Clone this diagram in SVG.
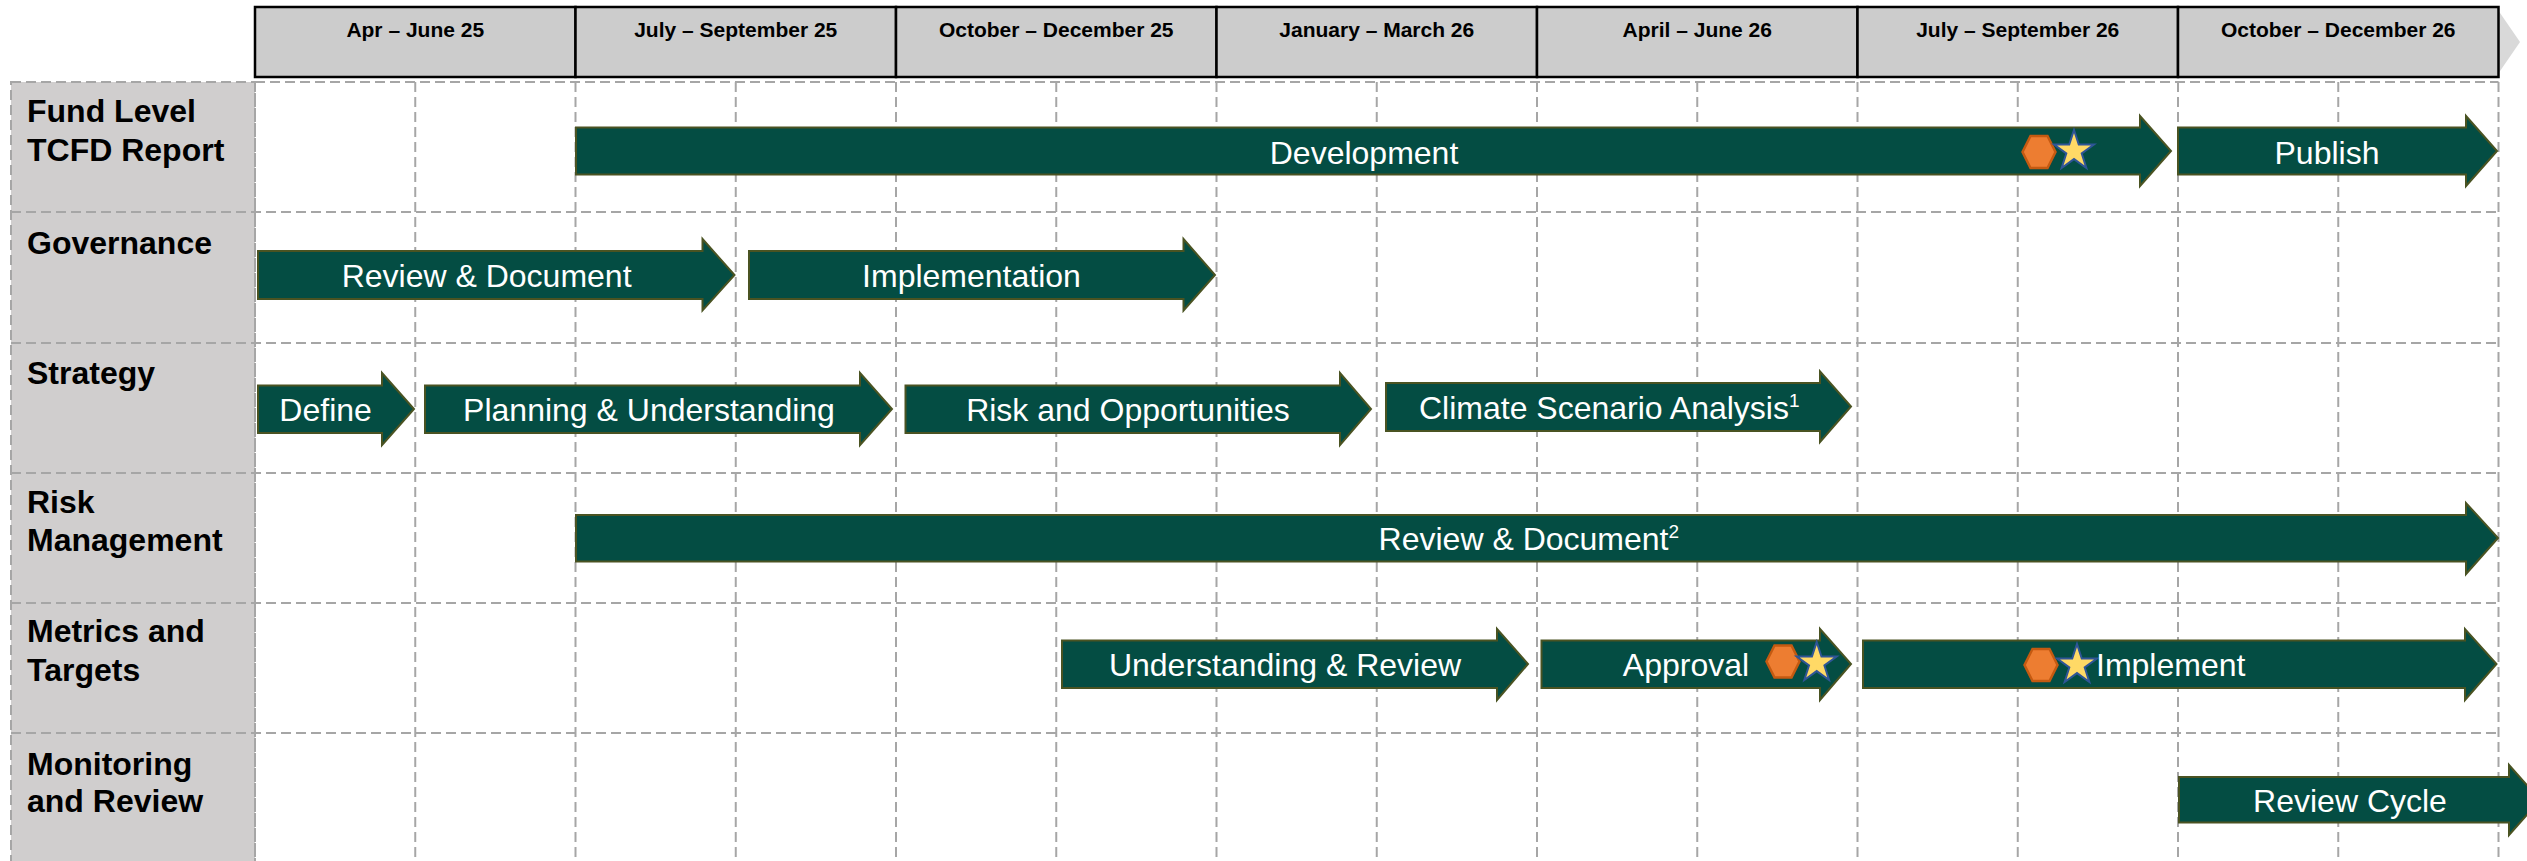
<svg xmlns="http://www.w3.org/2000/svg" xmlns:xlink="http://www.w3.org/1999/xlink" width="2527" height="861" viewBox="0 0 2527 861">
<style>
.hdr{fill:#cccccc;stroke:#000;stroke-width:2.5}
.hdrt{font-family:"Liberation Sans",Arial,sans-serif;font-weight:bold;font-size:21px;fill:#000;text-anchor:middle}
.grid{stroke:#a6a6a6;stroke-width:2;stroke-dasharray:10 5;fill:none}
.lab{font-family:"Liberation Sans",Arial,sans-serif;font-weight:bold;font-size:32px;fill:#000}
.bar{fill:#044d43;stroke:#4a5322;stroke-width:2}
.bt{font-family:"Liberation Sans",Arial,sans-serif;font-size:32px;fill:#fff;text-anchor:middle}
.bts{font-family:"Liberation Sans",Arial,sans-serif;font-size:32px;fill:#fff}
.sup{font-size:19px}
.hex{fill:#ed7d31;stroke:#c55a11;stroke-width:2.5}
.star{fill:#ffd966;stroke:#2f5597;stroke-width:2}
</style>
<defs>
<polygon id="hexg" class="hex" points="-16.5,0 -8.5,-16 8.5,-16 16.5,0 8.5,16 -8.5,16"/>
<polygon id="starg" class="star" points="0,-21 4.76,-6.55 19.97,-6.49 7.7,2.5 12.34,16.99 0,8.1 -12.34,16.99 -7.7,2.5 -19.97,-6.49 -4.76,-6.55"/>
</defs>
<rect width="2527" height="861" fill="#fff"/>

<g id="header">
<polygon points="2498,10 2520,42 2498,74" fill="#d9d9d9"/>
<rect class="hdr" x="255" y="7" width="320.5" height="70"/>
<rect class="hdr" x="575.5" y="7" width="320.5" height="70"/>
<rect class="hdr" x="896" y="7" width="320.5" height="70"/>
<rect class="hdr" x="1216.5" y="7" width="320.5" height="70"/>
<rect class="hdr" x="1537" y="7" width="320.5" height="70"/>
<rect class="hdr" x="1857.5" y="7" width="320.5" height="70"/>
<rect class="hdr" x="2178" y="7" width="320.5" height="70"/>
<text class="hdrt" x="415.25" y="37">Apr – June 25</text>
<text class="hdrt" x="735.75" y="37">July – September 25</text>
<text class="hdrt" x="1056.25" y="37">October – December 25</text>
<text class="hdrt" x="1376.75" y="37">January – March 26</text>
<text class="hdrt" x="1697.25" y="37">April – June 26</text>
<text class="hdrt" x="2017.75" y="37">July – September 26</text>
<text class="hdrt" x="2338.25" y="37">October – December 26</text>
</g>

<g id="labels">
<rect x="11" y="82" width="244" height="785" fill="#d0cece" stroke="#a6a6a6" stroke-width="2" stroke-dasharray="10 5"/>
<text class="lab" x="27" y="122">Fund Level</text>
<text class="lab" x="27" y="161">TCFD Report</text>
<text class="lab" x="27" y="254">Governance</text>
<text class="lab" x="27" y="384">Strategy</text>
<text class="lab" x="27" y="513">Risk</text>
<text class="lab" x="27" y="551">Management</text>
<text class="lab" x="27" y="642">Metrics and</text>
<text class="lab" x="27" y="681">Targets</text>
<text class="lab" x="27" y="775">Monitoring</text>
<text class="lab" x="27" y="812">and Review</text>
</g>

<g id="grid" class="grid">
<path d="M255 82H2498.5M11 212H2498.5M11 343H2498.5M11 473H2498.5M11 603H2498.5M11 733H2498.5"/>
<path d="M255 82V861M415.25 82V861M575.5 82V861M735.75 82V861M896 82V861M1056.25 82V861M1216.5 82V861M1376.75 82V861M1537 82V861M1697.25 82V861M1857.5 82V861M2017.75 82V861M2178 82V861M2338.25 82V861M2498.5 82V861"/>
</g>

<g id="row-fund">
<path class="bar" d="M576 127.5H2140V116L2171 151L2140 186V174.5H576Z"/>
<text class="bt" x="1364" y="163.5">Development</text>
<use xlink:href="#hexg" href="#hexg" x="2039" y="152"/>
<use xlink:href="#starg" href="#starg" x="2074" y="151"/>
<path class="bar" d="M2178 127.5H2466V116L2497 151L2466 186V174.5H2178Z"/>
<text class="bt" x="2327" y="163.5">Publish</text>
</g>

<g id="row-governance">
<path class="bar" d="M258 251H702.5V239L734.5 275L702.5 310.5V299H258Z"/>
<text class="bt" x="486.6" y="287">Review &amp; Document</text>
<path class="bar" d="M749 251H1183.5V239L1215 275L1183.5 310.5V299H749Z"/>
<text class="bt" x="971.5" y="287">Implementation</text>
</g>

<g id="row-strategy">
<path class="bar" d="M258 385.5H382V373L414 409L382 445V433H258Z"/>
<text class="bt" x="325.6" y="421">Define</text>
<path class="bar" d="M425 385.5H860V373L892 409L860 445V433H425Z"/>
<text class="bt" x="649" y="421">Planning &amp; Understanding</text>
<path class="bar" d="M905.5 385.5H1340V373L1371 409L1340 445V433H905.5Z"/>
<text class="bt" x="1128" y="421">Risk and Opportunities</text>
<path class="bar" d="M1386 383H1820V371.5L1851 406.5L1820 442V431H1386Z"/>
<text class="bts" x="1419" y="419">Climate Scenario Analysis<tspan class="sup" dy="-12">1</tspan></text>
</g>

<g id="row-risk">
<path class="bar" d="M576 515H2466V503L2498 538L2466 574V561.5H576Z"/>
<text class="bts" x="1378.6" y="550">Review &amp; Document<tspan class="sup" dy="-12">2</tspan></text>
</g>

<g id="row-metrics">
<path class="bar" d="M1062 640.5H1497V629L1528 664L1497 700V688H1062Z"/>
<text class="bt" x="1285" y="675.5">Understanding &amp; Review</text>
<path class="bar" d="M1541.5 640.5H1820V629L1851 664L1820 700V688H1541.5Z"/>
<text class="bt" x="1686" y="675.5">Approval</text>
<use xlink:href="#hexg" href="#hexg" x="1783" y="661.5"/>
<use xlink:href="#starg" href="#starg" x="1816.7" y="663"/>
<path class="bar" d="M1863 640.5H2465V629L2496.5 664L2465 700V688H1863Z"/>
<use xlink:href="#hexg" href="#hexg" x="2041" y="665"/>
<use xlink:href="#starg" href="#starg" x="2077" y="665"/>
<text class="bts" x="2096" y="676">Implement</text>
</g>

<g id="row-monitoring">
<path class="bar" d="M2179 777H2509V765L2540 800L2509 835V822.5H2179Z"/>
<text class="bt" x="2350" y="811.5">Review Cycle</text>
</g>
</svg>
